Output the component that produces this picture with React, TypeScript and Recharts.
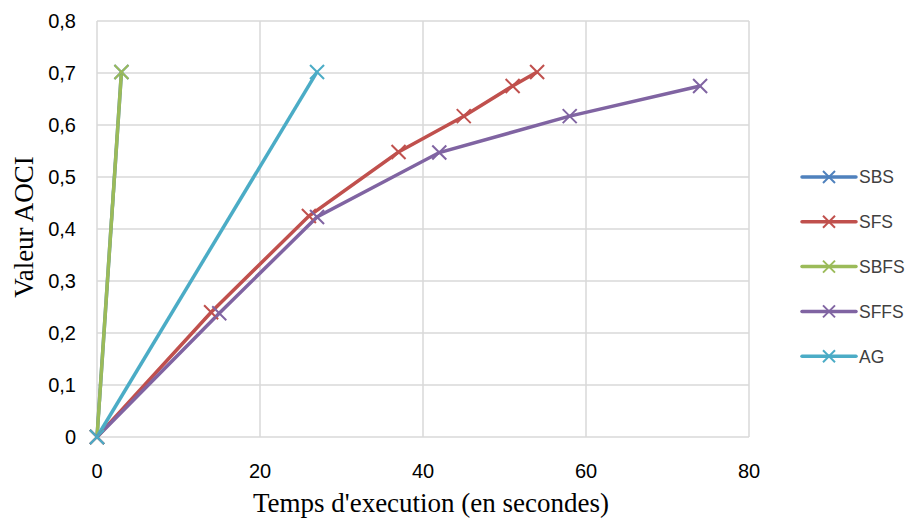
import React from "react";
import { LineChart, Line, XAxis, YAxis, CartesianGrid, Label } from "recharts";

// values
const SBS_X = [0, 3];
const SBS_Y = [0, 0.702];
const SFS_X = [0, 14, 26, 37, 45, 51, 54];
const SFS_Y = [0, 0.24, 0.425, 0.548, 0.617, 0.675, 0.702];
const SBFS_X = [0, 3];
const SBFS_Y = [0, 0.702];
const SFFS_X = [0, 15, 27, 42, 58, 74];
const SFFS_Y = [0, 0.238, 0.423, 0.547, 0.617, 0.675];
const AG_X = [0, 27];
const AG_Y = [0, 0.702];

const X_TICKS = [0, 20, 40, 60, 80];
const Y_TICKS = [0, 0.1, 0.2, 0.3, 0.4, 0.5, 0.6, 0.7, 0.8];

const zip = (xs: number[], ys: number[]) => xs.map((x, i) => ({ x, y: ys[i] }));

const SERIES = [
  { name: "SBS", color: "#4F81BD", data: zip(SBS_X, SBS_Y) },
  { name: "SFS", color: "#C0504D", data: zip(SFS_X, SFS_Y) },
  { name: "SBFS", color: "#9BBB59", data: zip(SBFS_X, SBFS_Y) },
  { name: "SFFS", color: "#8064A2", data: zip(SFFS_X, SFFS_Y) },
  { name: "AG", color: "#4BACC6", data: zip(AG_X, AG_Y) },
];

const TICK_FONT = "'Liberation Sans', Arial, sans-serif";
const TITLE_FONT = "'Liberation Serif', 'Times New Roman', serif";

const Cross = ({ cx, cy, color, r = 7 }: { cx: number; cy: number; color: string; r?: number }) => (
  <g stroke={color} strokeWidth={2}>
    <line x1={cx - r} y1={cy - r} x2={cx + r} y2={cy + r} />
    <line x1={cx - r} y1={cy + r} x2={cx + r} y2={cy - r} />
  </g>
);

const YTick = (props: any) => (
  <text x={76} y={props.y} dy="0.36em" textAnchor="end" fontSize={20} fontFamily={TICK_FONT} fill="#000">
    {String(props.payload.value).replace(".", ",")}
  </text>
);

const XTick = (props: any) => (
  <text x={props.x} y={478} textAnchor="middle" fontSize={20} fontFamily={TICK_FONT} fill="#000">
    {props.payload.value}
  </text>
);

export default function App() {
  return (
    <div style={{ position: "absolute", left: 0, top: 0, width: 907, height: 522, background: "#fff" }}>
      <LineChart width={907} height={522} margin={{ top: 21, right: 158, bottom: 0, left: 0 }}>
        <CartesianGrid stroke="#d9d9d9" strokeWidth={1.5} horizontalValues={Y_TICKS} verticalValues={X_TICKS} />
        <XAxis
          type="number"
          dataKey="x"
          domain={[0, 80]}
          ticks={X_TICKS}
          axisLine={false}
          tickLine={false}
          tick={<XTick />}
          height={85}
        >
          <Label
            content={() => (
              <text x={431} y={512} textAnchor="middle" fontSize={27} fontFamily={TITLE_FONT} fill="#000">
                Temps d'execution (en secondes)
              </text>
            )}
          />
        </XAxis>
        <YAxis
          type="number"
          dataKey="y"
          domain={[0, 0.8]}
          ticks={Y_TICKS}
          axisLine={false}
          tickLine={false}
          tick={<YTick />}
          width={97}
        >
          <Label
            content={() => (
              <text
                x={0}
                y={0}
                transform="translate(33, 227) rotate(-90)"
                textAnchor="middle"
                fontSize={27}
                fontFamily={TITLE_FONT}
                fill="#000"
              >
                Valeur AOCI
              </text>
            )}
          />
        </YAxis>
        {SERIES.map((s) => (
          <Line
            key={s.name}
            data={s.data}
            dataKey="y"
            name={s.name}
            type="linear"
            stroke={s.color}
            strokeWidth={3.5}
            isAnimationActive={false}
            dot={(p: any) => <Cross key={`${s.name}-${p.index}`} cx={p.cx} cy={p.cy} color={s.color} />}
            activeDot={false}
          />
        ))}
      </LineChart>
      <svg style={{ position: "absolute", left: 795, top: 160 }} width={112} height={215}>
        {SERIES.map((s, i) => {
          const y = 17 + i * 44.8;
          return (
            <g key={s.name}>
              <line x1={7} x2={61} y1={y} y2={y} stroke={s.color} strokeWidth={3.5} strokeLinecap="round" />
              <Cross cx={34} cy={y} color={s.color} r={6} />
              <text x={64} y={y} dy="0.36em" fontSize={17.5} fontFamily={TICK_FONT} fill="#404040">
                {s.name}
              </text>
            </g>
          );
        })}
      </svg>
    </div>
  );
}
